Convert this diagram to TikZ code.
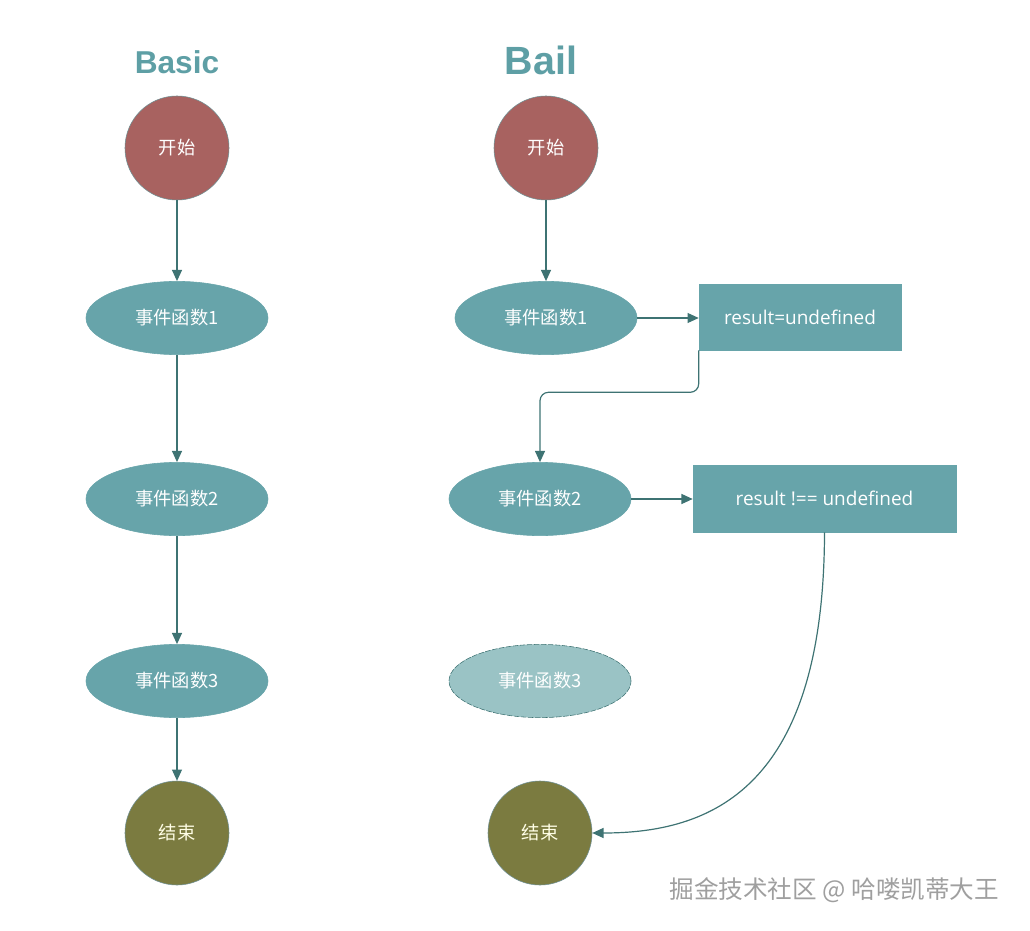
\documentclass[tikz,border=0pt]{standalone}
\usepackage{fontspec}
\setmainfont{Open Sans}
\newfontfamily\cjk{Noto Sans CJK SC}
\newfontfamily\titlefont{Liberation Sans}
\usetikzlibrary{arrows.meta,shapes.geometric}
\definecolor{tealfill}{HTML}{67A4AA}
\definecolor{palefill}{HTML}{9AC3C5}
\definecolor{startred}{HTML}{A86260}
\definecolor{endolive}{HTML}{7B7B40}
\definecolor{flowline}{HTML}{3E7373}
\definecolor{titleteal}{HTML}{5E9FA5}
\definecolor{ringgray}{HTML}{6F8F92}

\begin{document}
\begin{tikzpicture}[x=0.025cm, y=-0.025cm,
    startnode/.style={circle, draw=ringgray, fill=startred, minimum size=2.6cm,
                      text=white, font=\cjk\fontsize{13}{15}\selectfont},
    endnode/.style={circle, draw=ringgray, fill=endolive, minimum size=2.6cm,
                    text=yellow!10, font=\cjk\fontsize{13}{15}\selectfont},
    fnnode/.style={ellipse, draw=tealfill, fill=tealfill, minimum width=4.55cm,
                   minimum height=1.83cm, text=white, font=\cjk\fontsize{13}{15}\selectfont},
    skipnode/.style={fnnode, fill=palefill, draw=flowline, dash pattern=on 4pt off 1pt},
    resultbox/.style={rectangle, draw=tealfill, fill=tealfill, text=white,
                      font=\fontsize{13.5}{16}\selectfont},
    heading/.style={text=titleteal},
    flow/.style={draw=flowline, line width=0.85pt, -{Triangle[length=0.28cm, width=0.25cm]}}
]
    \useasboundingbox (0,0) rectangle (1030,931);

    % Basic
    \node[heading, font=\titlefont\bfseries\fontsize{22.5}{26}\selectfont] (basic) at (177,62) {Basic};
    \node[startnode] (startA) at (177,148) {开始};
    \node[fnnode] (fnA1) at (177,318) {事件函数1};
    \node[fnnode] (fnA2) at (177,499) {事件函数2};
    \node[fnnode] (fnA3) at (177,681) {事件函数3};
    \node[endnode] (endA) at (177,833) {结束};

    \draw[flow] (startA) -- (fnA1);
    \draw[flow] (fnA1) -- (fnA2);
    \draw[flow] (fnA2) -- (fnA3);
    \draw[flow] (fnA3) -- (endA);

    % Bail
    \node[heading, font=\titlefont\bfseries\fontsize{28}{33}\selectfont] (bail) at (541,60) {Bail};
    \node[startnode] (startB) at (546,148) {开始};
    \node[fnnode] (fnB1) at (546,318) {事件函数1};
    \node[fnnode] (fnB2) at (540,499) {事件函数2};
    \node[skipnode] (fnB3) at (540,681) {事件函数3};
    \node[endnode] (endB) at (540,833) {结束};
    \node[resultbox, minimum width=5.05cm, minimum height=1.65cm] (undef) at (800,317) {result=undefined};
    \node[resultbox, minimum width=6.575cm, minimum height=1.675cm] (notundef) at (824.5,498.5) {result !== undefined};

    \draw[flow] (startB) -- (fnB1);
    \draw[flow] (fnB1) -- (fnB1 -| undef.west);
    \draw[flow, rounded corners=6pt] (undef.south west) -- ++(0,42) -| (fnB2.north);
    \draw[flow] (fnB2) -- (fnB2 -| notundef.west);
    \draw[flow] (notundef.south) .. controls (824,790) and (710,833) .. (endB.east);

    \node[text=gray!75, font=\cjk\fontsize{17.5}{20}\selectfont, anchor=east] (mark) at (1004,890) {掘金技术社区 @ 哈喽凯蒂大王};
\end{tikzpicture}
\end{document}
